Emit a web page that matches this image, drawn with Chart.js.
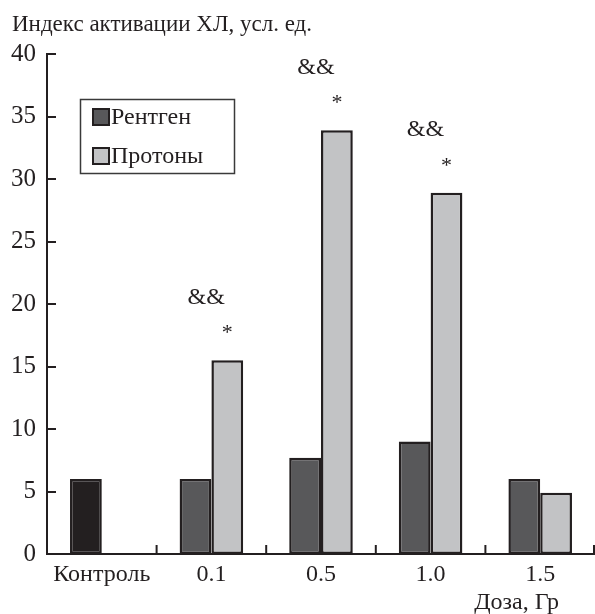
<!DOCTYPE html>
<html>
<head>
<meta charset="utf-8">
<script src="https://cdn.jsdelivr.net/npm/chart.js@4.4.1/dist/chart.umd.min.js"></script>
<style>
  html, body { margin: 0; padding: 0; background: #ffffff; }
  #wrap { position: relative; width: 595px; height: 614px; overflow: hidden; }
  #fontprobe { position: absolute; left: 0; top: 0; font-family: 'Liberation Serif'; font-size: 22px; color: #ffffff; z-index: -1; white-space: nowrap; }
  #chart { position: relative; z-index: 1; }
</style>
</head>
<body>
<div id="wrap">
  <div id="fontprobe">Контроль 0.1 &amp;&amp; * 40</div>
  <canvas id="warm" width="300" height="40" style="position:absolute;left:0;top:0;z-index:0"></canvas>
  <canvas id="chart" width="595" height="614"></canvas>
</div>
<script>
// Dose groups and measured activation index
const categories = ['Контроль', '0.1', '0.5', '1.0', '1.5'];
const xrayValues = [6.0, 6.0, 7.7, 9.0, 6.0];
const protonValues = [null, 15.5, 33.9, 28.9, 4.9];
const seriesNames = ['Рентген', 'Протоны'];
const yTicks = [0, 5, 10, 15, 20, 25, 30, 35, 40];
const significanceAmp = ['', '&&', '&&', '&&', ''];
const significanceStar = ['', '*', '*', '*', ''];
const yTitle = 'Индекс активации ХЛ, усл. ед.';
const xTitle = 'Доза, Гр';

const INK = '#231f20';
const DARK = '#58585a';
const LIGHT = '#c2c3c5';
const SERIF = "'Liberation Serif'";

// resolve the serif face on an attached canvas before the chart draws text
(function warmFont() {
  const g = document.getElementById('warm').getContext('2d');
  g.font = "22px 'Liberation Serif'";
  g.fillStyle = '#ffffff';
  g.fillText('Контроль 0.1 && * 40', 5, 28);
})();

// control bar is drawn black, dose bars dark grey
const xrayColors = xrayValues.map((v, i) => i === 0 ? INK : DARK);

const axisDecor = {
  id: 'axisDecor',
  afterDraw(chart) {
    const ctx = chart.ctx;
    const x = chart.scales.x, y = chart.scales.y;
    const area = chart.chartArea;
    ctx.save();
    ctx.strokeStyle = INK;
    ctx.lineWidth = 2;
    // inward tick marks on the value axis
    yTicks.forEach(v => {
      const py = Math.round(y.getPixelForValue(v));
      ctx.beginPath();
      ctx.moveTo(area.left, py);
      ctx.lineTo(area.left + 9, py);
      ctx.stroke();
    });
    // upward tick marks between dose groups
    const n = categories.length;
    for (let i = 1; i <= n; i++) {
      let px;
      if (i < n) px = (x.getPixelForTick(i - 1) + x.getPixelForTick(i)) / 2;
      else px = area.right - 1;
      ctx.beginPath();
      ctx.moveTo(px, area.bottom);
      ctx.lineTo(px, area.bottom - 9);
      ctx.stroke();
    }
    // axis titles
    ctx.fillStyle = INK;
    ctx.font = "23px 'Liberation Serif'";
    ctx.textBaseline = 'middle';
    ctx.textAlign = 'left';
    ctx.fillText(yTitle, 12, 25);
    ctx.font = "24px 'Liberation Serif'";
    ctx.textAlign = 'right';
    ctx.fillText(xTitle, 559, 603);

    // legend box
    ctx.lineWidth = 1.5;
    ctx.strokeStyle = '#3a3a3a';
    ctx.strokeRect(80.5, 99.5, 154, 74);
    const rows = [117, 156];
    const swatch = [DARK, LIGHT];
    rows.forEach((ry, k) => {
      ctx.fillStyle = swatch[k];
      ctx.fillRect(93, ry - 8, 16, 16);
      ctx.lineWidth = 2;
      ctx.strokeStyle = INK;
      ctx.strokeRect(93, ry - 8, 16, 16);
      ctx.fillStyle = INK;
      ctx.textAlign = 'left';
      ctx.font = "24px 'Liberation Serif'";
      ctx.fillText(chart.data.datasets[k].label, 111, ry + 1);
    });
    ctx.restore();
  },
  afterDatasetsDraw(chart) {
    const ctx = chart.ctx;
    const meta = chart.getDatasetMeta(1);
    ctx.save();
    ctx.fillStyle = INK;
    ctx.textAlign = 'center';
    ctx.textBaseline = 'middle';
    meta.data.forEach((bar, i) => {
      if (!significanceAmp[i]) return;
      ctx.font = "24px 'Liberation Serif'";
      ctx.fillText(significanceAmp[i], bar.x - 21, bar.y - 63);
      ctx.font = "22px 'Liberation Serif'";
      ctx.fillText(significanceStar[i], bar.x, bar.y - 27);
    });
    ctx.restore();
  }
};

const chart = new Chart(document.getElementById('chart'), {
  type: 'bar',
  data: {
    labels: categories,
    datasets: [
      {
        label: seriesNames[0],
        data: xrayValues,
        backgroundColor: xrayColors,
        borderColor: INK,
        borderWidth: 2.5,
        borderSkipped: false
      },
      {
        label: seriesNames[1],
        data: protonValues,
        backgroundColor: LIGHT,
        borderColor: INK,
        borderWidth: 2.5,
        borderSkipped: false
      }
    ]
  },
  options: {
    responsive: false,
    animation: false,
    layout: { padding: { top: 54, right: 0, left: 0, bottom: 0 } },
    datasets: { bar: { categoryPercentage: 0.58, barPercentage: 1.0 } },
    plugins: {
      legend: { display: false },
      tooltip: { enabled: false },
      title: { display: false }
    },
    scales: {
      x: {
        offset: true,
        grid: { display: false, drawTicks: false },
        border: { display: true, color: INK, width: 2 },
        ticks: { color: INK, font: { family: SERIF, size: 24 }, padding: 6, maxRotation: 0, autoSkip: false },
        afterFit(scale) { scale.height = 60; }
      },
      y: {
        min: 0,
        max: 40,
        grid: { display: false, drawTicks: false },
        border: { display: true, color: INK, width: 2 },
        ticks: { stepSize: 5, color: INK, font: { family: SERIF, size: 25 }, padding: 11 },
        afterFit(scale) { scale.width = 47; }
      }
    }
  },
  plugins: [axisDecor]
});

// redraw once the face is ready, so every label uses it
function redraw() { chart.update('none'); }
if (document.fonts && document.fonts.ready) document.fonts.ready.then(redraw);
requestAnimationFrame(redraw);
setTimeout(redraw, 60);
window.addEventListener('load', redraw);
</script>
</body>
</html>
